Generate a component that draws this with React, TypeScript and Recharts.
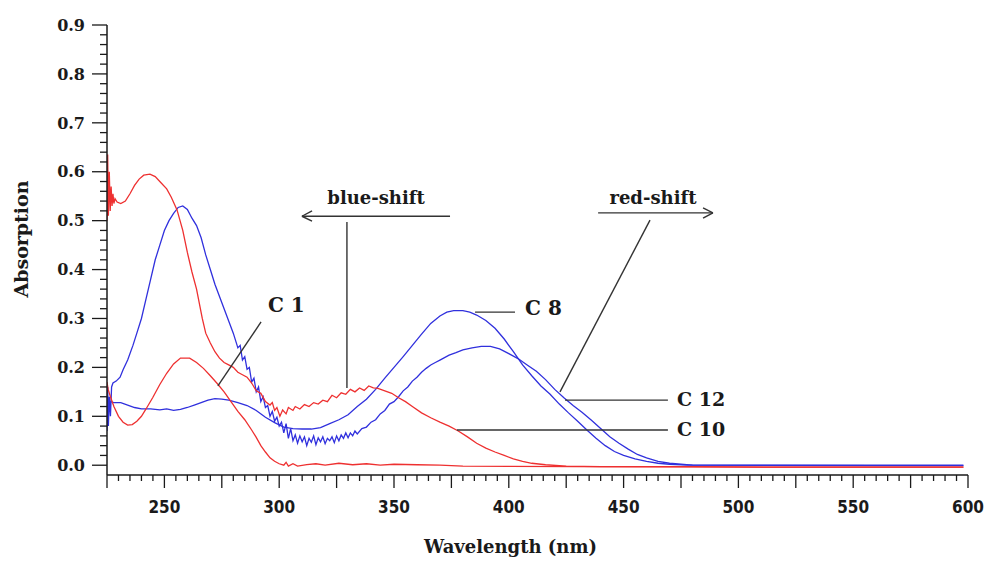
import { Label, Line, LineChart, ReferenceDot, ReferenceLine, XAxis, YAxis } from "recharts";

const RED = "#ee3030";
const BLUE = "#3030dd";
const INK = "#1a1a1a";
const SERIF = "'DejaVu Serif', 'Liberation Serif', serif";
const TICK_FONT = "'DejaVu Sans Condensed', 'Liberation Sans Narrow', 'Liberation Sans', sans-serif";

type Pt = [number, number];

// wavelength (nm), absorption
const c10Points: Pt[] = [
  [225, 0.5], [225.3, 0.635], [225.6, 0.51], [226, 0.6], [226.4, 0.52], [226.8, 0.57], [227.2, 0.53],
  [227.6, 0.555], [228, 0.535], [228.5, 0.545], [229.4, 0.538], [231, 0.535], [233, 0.54], [235, 0.555],
  [237, 0.572], [239, 0.585], [241, 0.593], [243.7, 0.595], [246, 0.59], [248, 0.58], [251, 0.565],
  [253, 0.548], [255.5, 0.522], [258, 0.48], [260, 0.435], [262, 0.395], [264, 0.36], [266.5, 0.3],
  [268, 0.27], [270, 0.25], [272, 0.232], [274, 0.219], [276, 0.21], [278, 0.205], [280, 0.2],
  [282, 0.19], [284, 0.185], [286, 0.18], [288, 0.168], [290, 0.152], [292, 0.147], [294, 0.13],
  [296, 0.123], [297, 0.128], [298, 0.112], [299, 0.118], [300.3, 0.1], [301.5, 0.113], [303, 0.105],
  [304, 0.118], [306, 0.112], [307, 0.12], [309, 0.115], [311, 0.124], [313, 0.12], [315, 0.128],
  [317, 0.125], [319, 0.133], [321, 0.13], [323, 0.143], [325, 0.138], [327, 0.148], [329, 0.145],
  [331, 0.155], [333, 0.15], [335, 0.158], [337, 0.153], [339, 0.162], [341, 0.158], [343, 0.157],
  [346, 0.152], [349, 0.147], [352, 0.138], [355, 0.13], [358, 0.12], [362, 0.107], [366, 0.097],
  [370, 0.088], [374, 0.08], [378, 0.07], [382, 0.058], [386, 0.045], [390, 0.035], [394, 0.027],
  [398, 0.02], [402, 0.013], [406, 0.008], [410, 0.004], [416, 0.001], [425, -0.002], [440, -0.003],
  [480, -0.003], [520, -0.004], [598, -0.004],
];

const c1Points: Pt[] = [
  [225, 0.17], [225.5, 0.155], [226.5, 0.14], [228, 0.12], [230, 0.1], [232, 0.088], [234, 0.082],
  [236, 0.083], [238, 0.09], [240, 0.1], [242, 0.115], [245, 0.139], [248, 0.165], [251, 0.188],
  [254, 0.207], [257, 0.219], [261, 0.219], [264, 0.21], [267, 0.198], [270, 0.183], [273, 0.167],
  [276, 0.15], [279, 0.13], [282, 0.11], [285, 0.093], [288, 0.072], [290, 0.057], [292, 0.04],
  [294, 0.027], [296, 0.015], [298, 0.008], [300, 0.003], [302, 0], [303, 0.006], [304, -0.002],
  [306, 0.003], [308, -0.002], [312, 0.001], [316, 0.003], [320, 0], [326, 0.004], [332, 0.001],
  [338, 0.003], [344, 0], [350, 0.002], [360, 0.001], [370, 0], [380, -0.002], [430, -0.003],
  [520, -0.004], [598, -0.004],
];

const c12Points: Pt[] = [
  [225, 0.07], [225.3, 0.16], [225.6, 0.08], [226, 0.14], [226.5, 0.1], [227, 0.16], [227.6, 0.168],
  [229, 0.172], [230.7, 0.18], [232, 0.195], [234, 0.215], [236.3, 0.245], [238, 0.27], [240, 0.3],
  [242, 0.34], [244, 0.38], [246, 0.42], [248, 0.45], [250, 0.48], [252, 0.5], [254, 0.515],
  [256, 0.527], [258, 0.53], [260, 0.523], [262, 0.505], [264, 0.49], [266, 0.465], [268, 0.43],
  [270, 0.4], [272, 0.37], [274, 0.345], [276, 0.32], [278, 0.295], [280, 0.27], [282, 0.24],
  [283, 0.245], [284, 0.215], [285, 0.222], [286, 0.196], [287, 0.2], [288, 0.17], [289, 0.178],
  [290, 0.15], [291, 0.16], [292, 0.13], [293, 0.14], [294, 0.118], [295, 0.122], [296, 0.1],
  [297, 0.11], [298, 0.09], [299, 0.098], [300, 0.08], [301, 0.088], [302, 0.066], [303, 0.085],
  [304, 0.055], [305, 0.075], [306, 0.05], [307, 0.062], [308, 0.045], [309, 0.06], [310, 0.048],
  [311, 0.058], [312, 0.04], [313, 0.055], [314, 0.047], [315, 0.06], [316, 0.042], [317, 0.056],
  [318, 0.048], [319, 0.058], [320, 0.044], [321, 0.055], [322, 0.05], [323, 0.058], [324, 0.046],
  [325, 0.06], [326, 0.05], [327, 0.062], [328, 0.055], [329, 0.066], [330, 0.056], [331, 0.066],
  [332, 0.06], [333, 0.07], [334, 0.064], [336, 0.075], [338, 0.078], [340, 0.088], [342, 0.093],
  [344, 0.105], [346, 0.112], [348, 0.125], [350, 0.13], [352, 0.14], [354, 0.152], [356, 0.16],
  [358, 0.172], [360, 0.18], [362, 0.19], [364, 0.198], [366, 0.205], [368, 0.21], [370, 0.215],
  [372, 0.22], [374, 0.225], [377, 0.23], [380, 0.236], [384, 0.24], [388, 0.243], [392, 0.243],
  [396, 0.238], [400, 0.228], [404, 0.218], [408, 0.205], [412, 0.192], [416, 0.175], [420, 0.155],
  [424, 0.138], [428, 0.122], [432, 0.108], [436, 0.092], [440, 0.075], [444, 0.058], [448, 0.045],
  [452, 0.033], [456, 0.022], [460, 0.015], [465, 0.008], [470, 0.004], [475, 0.002], [480, 0],
  [560, -0.001], [598, -0.001],
];

const c8Points: Pt[] = [
  [225, 0.12], [225.3, 0.14], [225.7, 0.125], [226.5, 0.13], [228, 0.128], [231, 0.128], [234, 0.123],
  [237, 0.118], [240, 0.115], [244, 0.115], [248, 0.113], [251, 0.115], [254, 0.112], [257, 0.114],
  [260, 0.118], [263, 0.123], [266, 0.128], [269, 0.133], [272, 0.136], [275, 0.135], [278, 0.133],
  [282, 0.128], [286, 0.122], [290, 0.112], [294, 0.098], [298, 0.087], [302, 0.078], [306, 0.075],
  [310, 0.074], [314, 0.074], [318, 0.077], [322, 0.085], [326, 0.093], [330, 0.103], [334, 0.12],
  [338, 0.135], [342, 0.155], [346, 0.178], [350, 0.2], [354, 0.222], [358, 0.245], [362, 0.268],
  [366, 0.29], [370, 0.305], [373, 0.313], [376, 0.316], [380, 0.316], [383, 0.313], [386, 0.307],
  [390, 0.296], [394, 0.28], [398, 0.258], [402, 0.232], [406, 0.205], [410, 0.183], [414, 0.162],
  [418, 0.145], [422, 0.125], [426, 0.107], [430, 0.09], [434, 0.072], [438, 0.055], [442, 0.04],
  [446, 0.028], [450, 0.02], [455, 0.013], [460, 0.008], [465, 0.004], [470, 0.002], [478, 0],
  [598, 0],
];

const xTicks = Array.from({ length: 76 }, (_, i) => 225 + i * 5);
const yTicks = Array.from({ length: 46 }, (_, i) => i / 50);

// leader lines and arrows, in data units
const leaderLines: [Pt, Pt][] = [
  [[292.1, 0.293], [273.3, 0.162]],
  [[309.9, 0.509], [374.4, 0.509]],
  [[309.9, 0.509], [314.3, 0.52]],
  [[309.9, 0.509], [314.3, 0.499]],
  [[329.5, 0.497], [329.5, 0.158]],
  [[438.9, 0.516], [488.9, 0.516]],
  [[488.9, 0.516], [484.6, 0.526]],
  [[488.9, 0.516], [484.6, 0.505]],
  [[461.5, 0.501], [422.3, 0.15]],
  [[385.3, 0.313], [402.7, 0.313]],
  [[424.5, 0.133], [469.3, 0.133]],
  [[377.4, 0.072], [469.3, 0.072]],
];

const curveLabels: { text: string; x: number; y: number; size: number; pos: "right" | "center" }[] = [
  { text: "C 1", x: 295.1, y: 0.327, size: 20, pos: "right" },
  { text: "C 8", x: 407.1, y: 0.321, size: 20, pos: "right" },
  { text: "C 12", x: 473.3, y: 0.135, size: 19, pos: "right" },
  { text: "C 10", x: 473.3, y: 0.074, size: 19, pos: "right" },
  { text: "blue-shift", x: 342.2, y: 0.548, size: 18, pos: "center" },
  { text: "red-shift", x: 462.8, y: 0.548, size: 18, pos: "center" },
];

const toRows = (pts: Pt[]) => pts.map(([x, y]) => ({ x, y }));

function YTick(props: any) {
  const { x, y, payload } = props;
  const v = payload.value as number;
  const major = Math.round(v * 100) % 10 === 0;
  return (
    <g>
      <line x1={x - (major ? 15 : 7)} x2={x} y1={y} y2={y} stroke={INK} strokeWidth={1.3} />
      {major ? (
        <text x={x - 22} y={y} dy="0.36em" textAnchor="end" fontFamily={SERIF} fontWeight="bold" fontSize={16} fill={INK}>
          {v.toFixed(1)}
        </text>
      ) : null}
    </g>
  );
}

function XTick(props: any) {
  const { x, y, payload } = props;
  const v = payload.value as number;
  const long = v % 25 === 0;
  return (
    <g>
      <line x1={x} x2={x} y1={y} y2={y + (long ? 13 : 6)} stroke={INK} strokeWidth={1.3} />
      {v % 50 === 0 ? (
        <text x={x} y={y + 38} textAnchor="middle" fontFamily={TICK_FONT} fontWeight="bold" fontSize={17} fill={INK}>
          {v}
        </text>
      ) : null}
    </g>
  );
}

export default function App() {
  return (
    <div style={{ position: "absolute", left: 0, top: 0, background: "#fff" }}>
      <LineChart width={990} height={561} margin={{ top: 25, right: 22, bottom: 0, left: 0 }}>
        <XAxis
          type="number"
          dataKey="x"
          domain={[225, 600]}
          ticks={xTicks}
          interval={0}
          tickSize={0}
          tickMargin={0}
          tick={<XTick />}
          height={86}
          axisLine={{ stroke: INK, strokeWidth: 1.5 }}
          allowDataOverflow
        >
          <Label
            content={(p: any) => {
              const vb = p.viewBox;
              return (
                <text x={vb.x + vb.width / 2 - 27} y={vb.y + 78} textAnchor="middle" fontFamily={SERIF} fontWeight="bold" fontSize={18} fill={INK}>
                  Wavelength (nm)
                </text>
              );
            }}
          />
        </XAxis>
        <YAxis
          type="number"
          domain={[-0.02, 0.9]}
          ticks={yTicks}
          interval={0}
          tickSize={0}
          tickMargin={0}
          tick={<YTick />}
          width={107}
          axisLine={{ stroke: INK, strokeWidth: 1.5 }}
          allowDataOverflow
        >
          <Label
            content={(p: any) => {
              const vb = p.viewBox;
              const cx = vb.x + 21;
              const cy = vb.y + vb.height / 2 - 11;
              return (
                <text x={cx} y={cy} transform={`rotate(-90 ${cx} ${cy})`} textAnchor="middle" dominantBaseline="central" fontFamily={SERIF} fontWeight="bold" fontSize={19} fill={INK}>
                  Absorption
                </text>
              );
            }}
          />
        </YAxis>

        <Line data={toRows(c8Points)} dataKey="y" name="C 8" type="linear" stroke={BLUE} strokeWidth={1.3} dot={false} isAnimationActive={false} />
        <Line data={toRows(c12Points)} dataKey="y" name="C 12" type="linear" stroke={BLUE} strokeWidth={1.3} dot={false} isAnimationActive={false} />
        <Line data={toRows(c1Points)} dataKey="y" name="C 1" type="linear" stroke={RED} strokeWidth={1.3} dot={false} isAnimationActive={false} />
        <Line data={toRows(c10Points)} dataKey="y" name="C 10" type="linear" stroke={RED} strokeWidth={1.3} dot={false} isAnimationActive={false} />

        {leaderLines.map(([a, b], i) => (
          <ReferenceLine
            key={`lead-${i}`}
            segment={[{ x: a[0], y: a[1] }, { x: b[0], y: b[1] }]}
            stroke="#333"
            strokeWidth={1.4}
            ifOverflow="visible"
          />
        ))}
        {curveLabels.map((l) => (
          <ReferenceDot
            key={l.text}
            x={l.x}
            y={l.y}
            r={0.01}
            fill="none"
            stroke="none"
            ifOverflow="visible"
            label={{
              value: l.text,
              position: l.pos,
              offset: 0,
              fontFamily: SERIF,
              fontWeight: "bold",
              fontSize: l.size,
              fill: INK,
            }}
          />
        ))}
      </LineChart>
    </div>
  );
}
